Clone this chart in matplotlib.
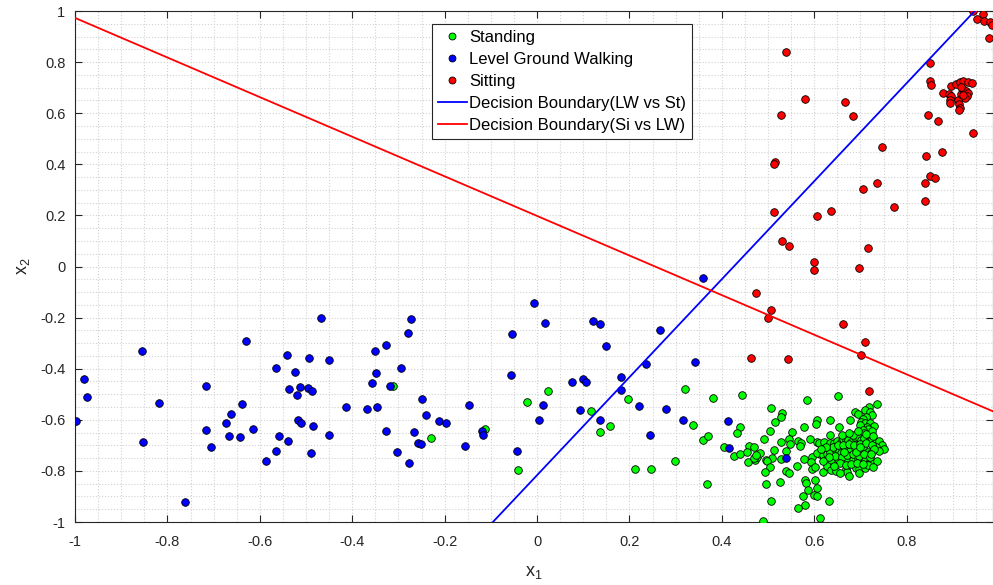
import matplotlib
matplotlib.use("Agg")
import matplotlib.pyplot as plt
import numpy as np
from matplotlib.lines import Line2D

plt.rcParams['font.family'] = ['Liberation Sans', 'DejaVu Sans']
plt.rcParams['mathtext.default'] = 'regular'
plt.rcParams['axes.unicode_minus'] = False

# ---------------- data ----------------
standing_x = [-0.312, -0.230, -0.113, -0.021, 0.023, -0.042, 0.117, 0.136, 0.158, 0.197, 0.213, 0.247,
              0.298, 0.320, 0.338, 0.359, 0.370, 0.367, 0.381, 0.443, 0.439, 0.433, 0.405, 0.427,
              0.440, 0.458, 0.469, 0.454, 0.457, 0.471, 0.477, 0.482,
              0.652, 0.584, 0.507, 0.736, 0.719, 0.530, 0.529, 0.688, 0.695, 0.709, 0.721, 0.726,
              0.713, 0.706, 0.515, 0.605, 0.603, 0.635, 0.677, 0.702, 0.709, 0.721, 0.729, 0.714,
              0.700, 0.577, 0.653, 0.717, 0.706, 0.726, 0.504, 0.551, 0.634, 0.707,
              0.491, 0.546, 0.566, 0.571, 0.570, 0.590, 0.606, 0.610, 0.621, 0.634, 0.642, 0.649,
              0.657, 0.662, 0.668, 0.673, 0.680, 0.688, 0.697, 0.702, 0.708, 0.720, 0.726, 0.733,
              0.740, 0.747, 0.751, 0.734, 0.740,
              0.514, 0.540, 0.547, 0.529,
              0.469, 0.475, 0.509, 0.496, 0.528, 0.578, 0.595, 0.592, 0.612, 0.606, 0.619, 0.628,
              0.635, 0.645, 0.653, 0.659, 0.670, 0.677, 0.688, 0.697, 0.706, 0.716, 0.724, 0.628,
              0.637, 0.651, 0.670, 0.684, 0.695, 0.709, 0.720, 0.714,
              0.497, 0.504, 0.494, 0.538, 0.545, 0.563, 0.595, 0.619, 0.628, 0.637, 0.648, 0.668,
              0.671, 0.675, 0.690, 0.698, 0.711, 0.716,
              0.495, 0.525, 0.581, 0.583, 0.602, 0.605, 0.587, 0.599, 0.576, 0.607, 0.507, 0.633,
              0.581, 0.565, 0.489, 0.613,
              0.640, 0.652, 0.663, 0.675, 0.686, 0.699, 0.712, 0.725, 0.645, 0.660, 0.672, 0.684,
              0.697, 0.708, 0.720, 0.632, 0.655, 0.668, 0.680, 0.693, 0.705, 0.642, 0.625, 0.615,
              0.690, 0.700, 0.664, 0.618, 0.602, 0.730, 0.735, 0.728, 0.685, 0.712, 0.695, 0.728,
              0.660, 0.675, 0.655, 0.698, 0.722]
standing_y = [-0.466, -0.672, -0.637, -0.530, -0.488, -0.795, -0.564, -0.649, -0.626, -0.517, -0.791, -0.793,
              -0.761, -0.479, -0.620, -0.680, -0.665, -0.851, -0.513, -0.502, -0.627, -0.653, -0.705, -0.743,
              -0.733, -0.703, -0.708, -0.727, -0.766, -0.759, -0.744, -0.731,
              -0.506, -0.523, -0.553, -0.538, -0.551, -0.575, -0.588, -0.571, -0.577, -0.562, -0.568, -0.581,
              -0.588, -0.598, -0.609, -0.602, -0.618, -0.602, -0.601, -0.609, -0.614, -0.611, -0.623, -0.627,
              -0.619, -0.630, -0.627, -0.635, -0.640, -0.643, -0.645, -0.649, -0.658, -0.650,
              -0.677, -0.677, -0.682, -0.692, -0.703, -0.677, -0.686, -0.690, -0.686, -0.692, -0.692, -0.682,
              -0.687, -0.677, -0.675, -0.679, -0.686, -0.669, -0.670, -0.679, -0.673, -0.679, -0.674, -0.686,
              -0.682, -0.699, -0.716, -0.705, -0.722,
              -0.718, -0.724, -0.695, -0.686,
              -0.748, -0.738, -0.748, -0.759, -0.755, -0.755, -0.744, -0.764, -0.735, -0.729, -0.738, -0.734,
              -0.725, -0.716, -0.722, -0.731, -0.713, -0.721, -0.712, -0.718, -0.708, -0.725, -0.731, -0.760,
              -0.757, -0.755, -0.755, -0.757, -0.751, -0.757, -0.760, -0.778,
              -0.760, -0.784, -0.803, -0.799, -0.807, -0.781, -0.794, -0.806, -0.781, -0.797, -0.801, -0.794,
              -0.803, -0.820, -0.790, -0.793, -0.790, -0.777,
              -0.851, -0.844, -0.836, -0.846, -0.836, -0.866, -0.875, -0.894, -0.897, -0.900, -0.918, -0.919,
              -0.934, -0.944, -0.998, -0.983,
              -0.705, -0.700, -0.698, -0.695, -0.697, -0.694, -0.692, -0.700, -0.740, -0.745, -0.738, -0.735,
              -0.740, -0.735, -0.745, -0.745, -0.770, -0.775, -0.772, -0.770, -0.772, -0.782, -0.705, -0.715,
              -0.725, -0.705, -0.725, -0.760, -0.785, -0.715, -0.760, -0.785, -0.660, -0.655, -0.645, -0.665,
              -0.660, -0.650, -0.810, -0.808, -0.735]

walking_x = [-0.980, -0.973, -0.998, -0.854, -0.819, -0.852, -0.762, -0.717, -0.717, -0.706, -0.674, -0.663,
             -0.667, -0.642, -0.638, -0.629, -0.614, -0.587, -0.564, -0.542, -0.523, -0.537, -0.514, -0.520,
             -0.493, -0.496, -0.487, -0.518, -0.510, -0.484, -0.559, -0.538, -0.564, -0.490, -0.467,
             -0.450, -0.450, -0.413, -0.367, -0.347, -0.358, -0.348, -0.351, -0.327, -0.319, -0.295, -0.280,
             -0.272, -0.326, -0.303, -0.277, -0.267, -0.257, -0.251, -0.249, -0.241, -0.212, -0.198, -0.156,
             -0.148, -0.118, -0.117, -0.054, -0.057, -0.007, 0.017, 0.014, 0.004, -0.044,
             0.121, 0.137, 0.150, 0.267, 0.343, 0.075, 0.100, 0.107, 0.181, 0.181, 0.235, 0.094,
             0.136, 0.221, 0.245, 0.279, 0.316, 0.413, 0.416, 0.359, 0.540]
walking_y = [-0.442, -0.510, -0.605, -0.332, -0.533, -0.688, -0.922, -0.469, -0.641, -0.708, -0.611, -0.576,
             -0.665, -0.667, -0.539, -0.292, -0.637, -0.760, -0.396, -0.345, -0.412, -0.478, -0.473, -0.504,
             -0.359, -0.474, -0.486, -0.602, -0.614, -0.623, -0.662, -0.684, -0.722, -0.729, -0.200,
             -0.366, -0.658, -0.551, -0.559, -0.551, -0.456, -0.418, -0.332, -0.306, -0.466, -0.396, -0.262,
             -0.204, -0.645, -0.725, -0.768, -0.648, -0.691, -0.693, -0.519, -0.581, -0.605, -0.611, -0.703,
             -0.543, -0.644, -0.658, -0.264, -0.423, -0.143, -0.221, -0.541, -0.601, -0.723,
             -0.213, -0.226, -0.310, -0.247, -0.373, -0.452, -0.441, -0.452, -0.432, -0.482, -0.383, -0.563,
             -0.602, -0.545, -0.661, -0.558, -0.601, -0.605, -0.710, -0.045, -0.751]

sitting_x = [0.538, 0.579, 0.667, 0.685, 0.529, 0.747, 0.516, 0.513, 0.705, 0.735, 0.840, 0.850,
             0.862, 0.843, 0.876, 0.846, 0.867, 0.943, 0.840, 0.851, 0.851, 0.852,
             0.514, 0.605, 0.636, 0.773, 0.530, 0.546, 0.716, 0.600, 0.600, 0.696, 0.473, 0.507,
             0.499, 0.662, 0.711, 0.701, 0.463, 0.543, 0.718,
             0.897, 0.906, 0.915, 0.922, 0.933, 0.942, 0.879, 0.892, 0.897, 0.893, 0.895, 0.911,
             0.913, 0.915, 0.913, 0.918, 0.923, 0.929, 0.932, 0.931, 0.926, 0.921, 0.918,
             0.943, 0.965, 0.952, 0.967, 0.980, 0.985, 0.978]
sitting_y = [0.841, 0.656, 0.645, 0.589, 0.593, 0.467, 0.410, 0.401, 0.303, 0.328, 0.327, 0.354,
             0.348, 0.431, 0.448, 0.593, 0.568, 0.524, 0.256, 0.796, 0.727, 0.710,
             0.213, 0.199, 0.216, 0.232, 0.101, 0.081, 0.071, 0.018, -0.014, -0.006, -0.103, -0.172,
             -0.202, -0.226, -0.294, -0.345, -0.357, -0.362, -0.486,
             0.708, 0.714, 0.723, 0.727, 0.723, 0.717, 0.678, 0.674, 0.667, 0.650, 0.640, 0.653,
             0.635, 0.619, 0.612, 0.674, 0.694, 0.687, 0.678, 0.666, 0.658, 0.671, 0.704,
             1.000, 0.990, 0.967, 0.961, 0.957, 0.945, 0.893]

# decision boundaries x2 = slope * x1 + intercept
boundary_lw_st = (1.918, -0.817)
boundary_si_lw = (-0.775, 0.198)

series_labels = ['Standing', 'Level Ground Walking', 'Sitting',
                 'Decision Boundary(LW vs St)', 'Decision Boundary(Si vs LW)']
x_ticks = [-1, -0.8, -0.6, -0.4, -0.2, 0, 0.2, 0.4, 0.6, 0.8]
y_ticks = [-1, -0.8, -0.6, -0.4, -0.2, 0, 0.2, 0.4, 0.6, 0.8, 1]

# ---------------- figure ----------------
fig = plt.figure(figsize=(9.93, 5.85), dpi=100)
ax = fig.add_axes([75 / 993, 63 / 585, 918 / 993, 511 / 585])
xlim = (-1.0, 0.987)
ylim = (-1.0, 1.0)

ms = 30
ax.scatter(standing_x, standing_y, s=ms, c='#00ff00', edgecolors='black', linewidths=0.6, zorder=3)
ax.scatter(walking_x, walking_y, s=ms, c='#0000ff', edgecolors='black', linewidths=0.6, zorder=3)
ax.scatter(sitting_x, sitting_y, s=ms, c='#ff0000', edgecolors='black', linewidths=0.6, zorder=3)

xs = np.linspace(xlim[0], xlim[1], 200)
ax.plot(xs, boundary_lw_st[0] * xs + boundary_lw_st[1], color='#0000ff', lw=1.3, zorder=4)
ax.plot(xs, boundary_si_lw[0] * xs + boundary_si_lw[1], color='#ff0000', lw=1.3, zorder=4)

ax.set_xlim(*xlim)
ax.set_ylim(*ylim)
ax.set_xticks(x_ticks)
ax.set_yticks(y_ticks)
ax.set_xticklabels(['%g' % v for v in x_ticks])
ax.set_yticklabels(['%g' % v for v in y_ticks])
ax.set_xticks(np.arange(-1, 1.0, 0.05), minor=True)
ax.set_yticks(np.arange(-1, 1.0001, 0.05), minor=True)
ax.tick_params(which='major', direction='in', length=5, width=0.8, color='#262626',
               labelsize=10.5, labelcolor='#262626', top=True, right=True)
ax.tick_params(axis='x', which='major', pad=9)
ax.tick_params(axis='y', which='major', pad=7)
ax.tick_params(which='minor', length=0, top=True, right=True)
ax.grid(which='both', linestyle=':', color='#d2d2d2', linewidth=0.8, zorder=0)
ax.set_axisbelow(True)
for sp in ax.spines.values():
    sp.set_color('#262626')
    sp.set_linewidth(0.8)

ax.set_xlabel('x$_1$', fontsize=13, color='#262626', labelpad=11)
ax.set_ylabel('x$_2$', fontsize=13, color='#262626', labelpad=6)

handles = [
    Line2D([], [], marker='o', ls='none', markerfacecolor='#00ff00', markeredgecolor='black', markersize=5, markeredgewidth=0.6),
    Line2D([], [], marker='o', ls='none', markerfacecolor='#0000ff', markeredgecolor='black', markersize=5, markeredgewidth=0.6),
    Line2D([], [], marker='o', ls='none', markerfacecolor='#ff0000', markeredgecolor='black', markersize=5, markeredgewidth=0.6),
    Line2D([], [], color='#0000ff', lw=1.3),
    Line2D([], [], color='#ff0000', lw=1.3),
]
leg = ax.legend(handles, series_labels, loc='upper left', bbox_to_anchor=(0.3886, 0.974),
                borderaxespad=0, fontsize=12, frameon=True, fancybox=False, framealpha=1,
                edgecolor='#262626', handlelength=1.75, handletextpad=0.15, borderpad=0.35,
                labelspacing=0.42)
leg.get_frame().set_linewidth(0.8)
leg.set_zorder(5)

fig.savefig('out.png', dpi=100)
